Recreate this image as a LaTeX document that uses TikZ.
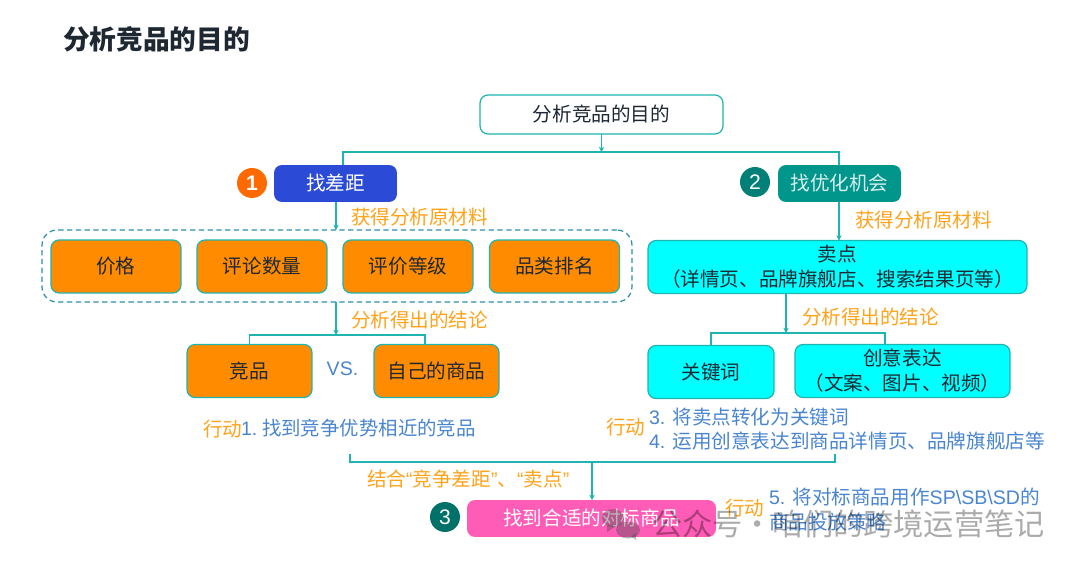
\documentclass[tikz,border=0pt]{standalone}
\usepackage{fontspec}
\usepackage{tikz}
\usetikzlibrary{arrows.meta}
\setmainfont{Noto Sans CJK SC}
\newfontfamily\latinface{Liberation Sans}
\definecolor{edge}{RGB}{30, 180, 175}
\definecolor{rim}{RGB}{46, 143, 168}
\definecolor{amber}{RGB}{255, 140, 0}
\definecolor{aqua}{RGB}{0, 255, 255}
\definecolor{royal}{RGB}{43, 75, 214}
\definecolor{sea}{RGB}{0, 150, 140}
\definecolor{flame}{RGB}{255, 106, 0}
\definecolor{rose}{RGB}{255, 92, 184}
\definecolor{tag}{RGB}{255, 163, 26}
\definecolor{step}{RGB}{74, 134, 208}
\definecolor{ink}{RGB}{30, 40, 50}
\tikzset{
  every node/.style={inner sep=0pt, outer sep=0pt, font=\fontsize{11.15}{14.3}\selectfont, text=ink},
  box/.style={draw=edge, line width=0.7pt, rounded corners=0.16cm, align=center},
  amberbox/.style={box, fill=amber, minimum width=2.5cm, minimum height=1.06cm},
  aquabox/.style={box, fill=aqua, minimum height=1.06cm},
  headbox/.style={box, draw=none, text=white, minimum height=0.74cm},
  badge/.style={circle, minimum size=0.6cm, text=white, font=\latinface\fontsize{12}{14}\selectfont},
  link/.style={draw=edge, line width=0.7pt},
  feed/.style={link, -{Stealth[length=3pt,width=3pt]}},
  tagtext/.style={text=tag},
  steptext/.style={text=step}
}
\begin{document}
\begin{tikzpicture}[x=0.02cm,y=-0.02cm]
\useasboundingbox [fill=white] (0,0) rectangle (1080,568);

\node at (63,39) [right, font=\bfseries\fontsize{15.2}{18}\selectfont] (title) {分析竞品的目的};

\node [box, fill=white, minimum width=4.86cm, minimum height=0.78cm] (root) at (601.5,114.5) {分析竞品的目的};
\coordinate (fork) at (601.5,152);
\coordinate (forkgap) at (343,152);
\coordinate (forkchance) at (839,152);

% left branch
\node [headbox, fill=royal, minimum width=2.46cm] (gap) at (335.5,183.5) {找差距};
\node [badge, fill=flame, font=\latinface\bfseries\fontsize{12}{14}\selectfont] (one) at (252,183) {1};
\node [tagtext] at (351,217) [right] (gettext) {获得分析原材料};
\node [draw=rim, line width=0.7pt, dash pattern=on 3pt off 2pt, rounded corners=0.3cm, minimum width=11.8cm, minimum height=1.44cm] (stuff) at (337,266) {};
\node [amberbox, minimum width=2.6cm] (price) at (116,266.5) {价格};
\node [amberbox, minimum width=2.6cm] (count) at (262,266.5) {评论数量};
\node [amberbox, minimum width=2.6cm] (grade) at (408,266.5) {评价等级};
\node [amberbox, minimum width=2.6cm] (rank) at (554.5,266.5) {品类排名};
\node [tagtext] at (351,320) [right] (endtext) {分析得出的结论};
\coordinate (forkend) at (336,335);
\node [amberbox] (rival) at (249.5,371) {竞品};
\node [steptext, font=\latinface\fontsize{11.15}{14}\selectfont] (vs) at (342.5,369) {VS.};
\node [amberbox] (own) at (436.5,371) {自己的商品};
\node [tagtext] at (203,429) [right] (acta) {行动};
\node [steptext, font=\fontsize{11.05}{14}\selectfont] at (241,428) [right] (stepa) {{\latinface 1.\hspace{2.8pt}}找到竞争优势相近的竞品};

% right branch
\node [headbox, fill=sea, minimum width=2.46cm, text=white!85!sea] (chance) at (839.5,183.5) {找优化机会};
\node [badge, fill=sea!85!black] (two) at (755,182) {2};
\node [tagtext] at (855,220) [right] (gettextb) {获得分析原材料};
\node [aquabox, minimum width=7.58cm] (sell) at (837.5,267) {卖点\\（详情页、品牌旗舰店、搜索结果页等）};
\node [tagtext] at (802,317) [right] (endtextb) {分析得出的结论};
\coordinate (forkendb) at (786,333);
\node [aquabox, minimum width=2.52cm] (word) at (711,372) {关键词};
\node [aquabox, minimum width=4.3cm] (idea) at (902.5,371) {创意表达\\（文案、图片、视频）};
\node [tagtext] at (606,427) [right] (actb) {行动};
\node [steptext] at (649,417) [right] (stepb) {{\latinface 3. }将卖点转化为关键词};
\node [steptext] at (649,441) [right] (stepc) {{\latinface 4. }运用创意表达到商品详情页、品牌旗舰店等};

% bottom
\coordinate (bracketl) at (350,454);
\coordinate (bracketr) at (835,454);
\coordinate (bracketm) at (592,462);
\node [tagtext] at (367,479) [right] (jointext) {结合{\latinface “}竞争差距{\latinface ”}、{\latinface “}卖点{\latinface ”}};
\node [headbox, fill=rose, minimum width=4.98cm] (target) at (591.5,518.5) {找到合适的对标商品};
\node [badge, fill=sea!75!black] (three) at (445,517) {3};
\node [tagtext] at (725,508) [right] (actc) {行动};
\node [steptext] at (769,497) [right] (stepd) {{\latinface 5. }将对标商品用作{\latinface SP\textbackslash SB\textbackslash SD}的};
\node [steptext] at (769,522) [right] (stepe) {商品投放策略};

% links
\draw [feed] (root.south) -- (fork);
\draw [link] (forkgap |- gap.north) -- (forkgap) -- (forkchance) -- (forkchance |- chance.north);
\draw [feed] (forkend |- gap.south) -- (forkend |- stuff.north);
\draw [feed] (forkchance |- chance.south) -- (forkchance |- sell.north);
\draw [feed] (stuff.south -| forkend) -- (forkend);
\draw [link] (rival.north) |- (forkend) -| (own.north -| 425,0);
\draw [feed] (sell.south -| forkendb) -- (forkendb);
\draw [link] (word.north) |- (forkendb) -| (idea.north -| 885,0);
\draw [link] (bracketl) |- (bracketm) -| (bracketr);
\draw [feed] (bracketm) -- (bracketm |- target.north);

% mark on top
\fill [black!70, opacity=0.4] (613,518) ellipse (11 and 9);
\fill [black!70, opacity=0.4] (607,525) -- (607,532) -- (616,526) -- cycle;
\fill [black!70, opacity=0.4] (628,530) ellipse (12 and 8.5);
\fill [black!70, opacity=0.4] (631,536) -- (636,540) -- (636,533) -- cycle;
\node [text=black, opacity=0.33, font=\fontsize{17.2}{20}\selectfont] at (652,524) [right] (mark) {公众号·咱们的跨境运营笔记};
\end{tikzpicture}
\end{document}
